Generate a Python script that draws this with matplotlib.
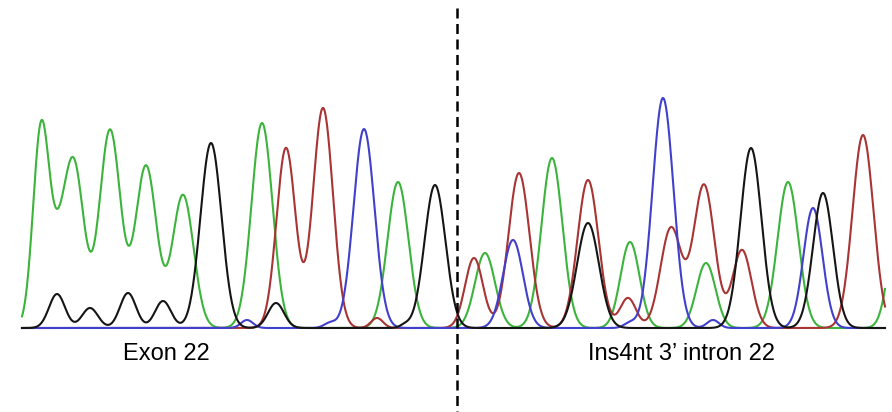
import numpy as np
import matplotlib.pyplot as plt

# peak centre (scan position), height (signal) and width (sigma) for each dye channel
green_pos = [41, 57, 74, 110, 146, 183, 262, 398, 485, 552, 630, 706, 788, 897]
green_hgt = [195, 55, 160, 198, 162, 133, 205, 146, 75, 170, 86, 65, 146, 95]
green_wid = [8, 9, 10, 10.5, 10.5, 10.5, 10.5, 10.5, 10, 10.5, 9.5, 9.5, 10.5, 9]

black_pos = [57, 90, 128, 163, 211, 276, 405, 435, 588, 751, 823]
black_hgt = [34, 20, 35, 27, 185, 25, 3, 143, 105, 180, 135]
black_wid = [8, 8, 8, 8, 10.5, 8, 5, 10.5, 11, 10.5, 10]

red_pos = [286, 323, 377, 474, 519, 588, 628, 671, 704, 742, 863]
red_hgt = [180, 220, 10, 70, 155, 148, 30, 100, 143, 78, 193]
red_wid = [9.5, 10, 6, 9, 10.5, 10.5, 8, 10.5, 10.5, 9.5, 10.5]

blue_pos = [247, 330, 364, 513, 630, 663, 713, 813]
blue_hgt = [8, 5, 199, 88, 5, 230, 8, 120]
blue_wid = [6, 6, 10.5, 10, 6, 10.5, 6, 9.5]

channels = [
    (green_pos, green_hgt, green_wid, "#3cb43c"),
    (red_pos, red_hgt, red_wid, "#a83434"),
    (blue_pos, blue_hgt, blue_wid, "#4040cc"),
    (black_pos, black_hgt, black_wid, "#151515"),
]

x = np.arange(22, 885.5, 0.5)


def trace(pos, hgt, wid):
    y = np.zeros_like(x)
    for p, h, w in zip(pos, hgt, wid):
        y += h * np.exp(-0.5 * ((x - p) / w) ** 2)
    return y


fig = plt.figure(figsize=(8.92, 4.12), dpi=100)
ax = fig.add_axes([0, 0, 1, 1])

for pos, hgt, wid, col in channels:
    ax.plot(x, trace(pos, hgt, wid), color=col, lw=1.5, solid_joinstyle="round")

# boundary between exon and inserted intron sequence
ax.plot([457, 457], [320, -84], color="black", lw=1.8, linestyle=(0, (4, 2.2)))

ax.text(166, -26, "Exon 22", fontsize=17, family="Liberation Sans",
        ha="center", va="center")
ax.text(681, -26, "Ins4nt 3\u2019 intron 22", fontsize=17, family="Liberation Sans",
        ha="center", va="center")

ax.set_xlim(0, 892)
ax.set_ylim(-84, 328)
ax.axis("off")

fig.savefig("out.png", dpi=100)
